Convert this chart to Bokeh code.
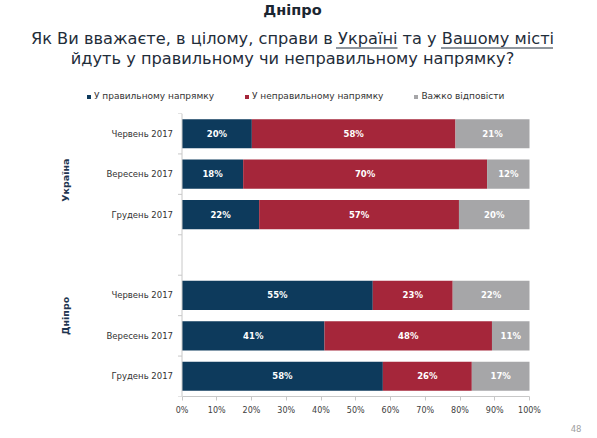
import pandas as pd
from bokeh.plotting import figure
from bokeh.models import (ColumnDataSource, FactorRange, Range1d, Legend, LegendItem,
                          Title, Span, PrintfTickFormatter, FixedTicker)
from bokeh.layouts import column
from bokeh.core.properties import value
from bokeh.embed import file_html
from bokeh.resources import INLINE

# ---------------- data ----------------
title_text = "Дніпро"
question_1 = "Як Ви вважаєте, в цілому, справи в Україні та у Вашому місті"
question_2 = "йдуть у правильному чи неправильному напрямку?"

group_names = ["Україна", "Дніпро"]
groups = ["Україна", "Україна", "Україна", "Дніпро", "Дніпро", "Дніпро"]
months = ["Червень 2017", "Вересень 2017", "Грудень 2017",
          "Червень 2017", "Вересень 2017", "Грудень 2017"]

series_names = ["У правильному напрямку", "У неправильному напрямку", "Важко відповісти"]
right_vals = [20.1, 17.6, 22.2, 54.9, 41.0, 57.8]
wrong_vals = [58.6, 70.2, 57.5, 23.0, 48.2, 25.6]
hard_vals = [21.3, 12.2, 20.3, 22.1, 10.8, 16.6]
right_labels = ["20%", "18%", "22%", "55%", "41%", "58%"]
wrong_labels = ["58%", "70%", "57%", "23%", "48%", "26%"]
hard_labels = ["21%", "12%", "20%", "22%", "11%", "17%"]

x_ticks = [0, 10, 20, 30, 40, 50, 60, 70, 80, 90, 100]
page_number = "48"

# ---------------- styles ----------------
C_RIGHT = "#0d3a5c"
C_WRONG = "#a5263a"
C_HARD = "#a6a6a8"
C_AXIS = "#c8c8c8"
C_HEAD = "#1f2d3a"
FONT = "DejaVu Sans"
W, H = 597, 438
H_HEAD = 105
PLOT_L, PLOT_R = 181.5, 529.0   # pixel positions of 0% and 100%
CX = 292                        # header centre

# ---------------- header figure ----------------
head = figure(width=W, height=H_HEAD, x_range=Range1d(0, W), y_range=Range1d(H_HEAD, 0),
              title=None, output_backend="svg", toolbar_location=None,
              x_axis_location=None, y_axis_location=None,
              min_border_left=0, min_border_right=0, min_border_top=0, min_border_bottom=0)
head.grid.visible = False
head.outline_line_color = None

head.text(x=[CX], y=[9.5], text=[title_text], text_align="center", text_baseline="alphabetic",
          text_font=value(FONT), text_font_style="bold", text_font_size="14.5px",
          text_color="#1b2631")
head.text(x=[CX, CX], y=[37.5, 57.5], text=[question_1, question_2],
          text_align="center", text_baseline="alphabetic",
          text_font=value(FONT), text_font_size="16.2px", text_color=C_HEAD)
# underline of "Україні" and "Вашому місті"
head.segment(x0=[335.5, 440.5], y0=[47.5, 47.5], x1=[397.0, 552.5], y1=[47.5, 47.5],
             line_color=C_HEAD, line_width=1)

# legend swatches: one-row renderers placed outside the header's visible range
samples = [head.quad(left=[-10], right=[-5], top=[-10], bottom=[-5], color=c, line_color=None)
           for c in (C_RIGHT, C_WRONG, C_HARD)]
legend = Legend(items=[LegendItem(label=n, renderers=[r]) for n, r in zip(series_names, samples)],
                orientation="horizontal", location=(86, 3), padding=0, margin=0,
                spacing=30, glyph_width=5, glyph_height=5, label_standoff=3, label_height=12,
                label_text_font=FONT, label_text_font_size="9px", label_text_color="#333333",
                border_line_color=None, background_fill_alpha=0)
head.add_layout(legend, "center")

# ---------------- chart figure ----------------
df = pd.DataFrame({"g": groups, "m": months,
                   "right": right_vals, "wrong": wrong_vals, "hard": hard_vals,
                   "rl": right_labels, "wl": wrong_labels, "hl": hard_labels})
df["cat"] = list(zip(df["g"], df["m"]))
df = df.iloc[::-1].reset_index(drop=True)  # bottom-to-top order
factors = list(df["cat"])

yr = FactorRange(*factors, factor_padding=0.0, group_padding=1.0, range_padding=0.0)
px_per_unit = (PLOT_R - PLOT_L) / 100.0
xr = Range1d(-PLOT_L / px_per_unit, 100 + (W - PLOT_R) / px_per_unit)

p = figure(width=W, height=H - H_HEAD, y_range=yr, x_range=xr, title=None,
           output_backend="svg", toolbar_location=None, y_axis_location=None,
           min_border_left=0, min_border_right=0, min_border_top=8, min_border_bottom=42)
p.outline_line_color = None
p.grid.visible = False

src = ColumnDataSource(dict(cat=factors, right=list(df["right"]), wrong=list(df["wrong"]),
                            hard=list(df["hard"])))
rends = p.hbar_stack(["right", "wrong", "hard"], y="cat", height=0.72, source=src,
                     color=[C_RIGHT, C_WRONG, C_HARD], line_color=None)

mid_r = df["right"] / 2
mid_w = df["right"] + df["wrong"] / 2
mid_h = df["right"] + df["wrong"] + df["hard"] / 2
for mids, col in [(mid_r, "rl"), (mid_w, "wl"), (mid_h, "hl")]:
    ls = ColumnDataSource(dict(x=list(mids), y=factors, t=list(df[col])))
    p.text(x="x", y="y", text="t", source=ls, text_align="center", text_baseline="middle",
           text_color="white", text_font=value(FONT), text_font_style="bold",
           text_font_size="8.5px")

# category axis drawn inside the frame
p.add_layout(Span(location=0, dimension="height", line_color=C_AXIS, line_width=1))
n_slots = len(factors) + 1
bounds_y = list(range(n_slots + 1))
p.segment(x0=[-4 / px_per_unit] * len(bounds_y), y0=bounds_y, x1=[0] * len(bounds_y), y1=bounds_y,
          line_color=C_AXIS, line_width=1)
cat_src = ColumnDataSource(dict(x=[0] * len(factors), y=factors, t=list(df["m"])))
p.text(x="x", y="y", text="t", source=cat_src, x_offset=-9, text_align="right",
       text_baseline="middle", text_font=value(FONT), text_font_size="8.5px",
       text_color="#333333")
for g, dy in zip(group_names, [6, -20]):
    p.text(x=[0], y=[(g, "Вересень 2017")], text=[g], x_offset=-116.5, y_offset=dy,
           angle=1.5708, text_align="center", text_baseline="middle",
           text_font=value(FONT), text_font_style="bold", text_font_size="9.5px",
           text_color="#1f3550")

xa = p.xaxis[0]
xa.bounds = (0, 100)
xa.ticker = FixedTicker(ticks=x_ticks)
xa.formatter = PrintfTickFormatter(format="%d%%")
xa.axis_line_color = C_AXIS
xa.major_tick_line_color = C_AXIS
xa.major_tick_in = 0
xa.major_tick_out = 4
xa.minor_tick_line_color = None
xa.major_label_text_font = FONT
xa.major_label_text_font_size = "8px"
xa.major_label_text_color = "#404040"
xa.major_label_standoff = 5

p.add_layout(Title(text=page_number, align="right", offset=16, vertical_align="bottom",
                   standoff=10, text_font=FONT, text_font_size="8.5px",
                   text_font_style="normal", text_color="#a0a0a0"), "below")

layout = column(head, p, spacing=0)
open("out.html", "w").write(file_html(layout, INLINE))
